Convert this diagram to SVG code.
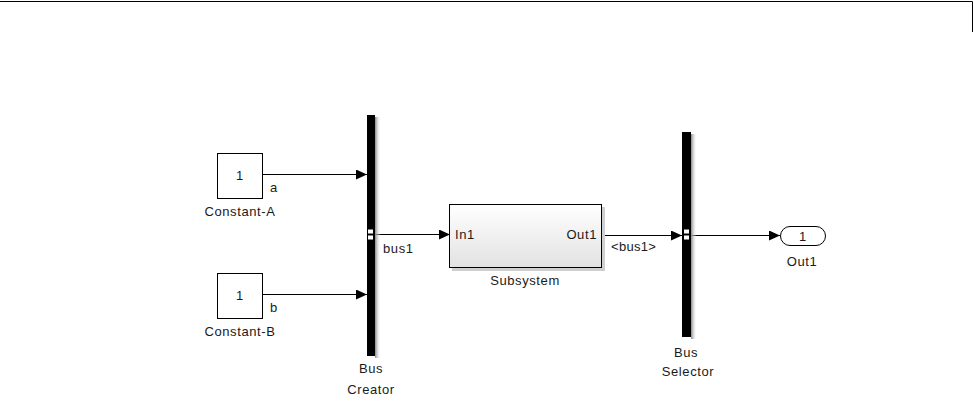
<svg xmlns="http://www.w3.org/2000/svg" width="973" height="411" viewBox="0 0 973 411">
<style>
text{font-family:"Liberation Sans",Arial,sans-serif;font-size:13px;letter-spacing:0.6px;fill:#1a1a1a}
.blk{fill:#fff;stroke:#000;stroke-width:1}
.bar{fill:#000}
.ln{stroke:#000;stroke-width:1;fill:none}
.shadow{fill:#cfcfcf}
.port{fill:#fff}
</style>
<defs>
<marker id="ah" markerWidth="11" markerHeight="10" refX="11" refY="5" orient="auto" markerUnits="userSpaceOnUse">
<path d="M0,0 L11,5 L0,10 z" fill="#000"/>
</marker>
<linearGradient id="sg" x1="0" y1="0" x2="0" y2="1">
<stop offset="0" stop-color="#ffffff"/>
<stop offset="1" stop-color="#e2e2e2"/>
</linearGradient>
<linearGradient id="barsh" x1="0" y1="0" x2="1" y2="0">
<stop offset="0" stop-color="#888"/>
<stop offset="1" stop-color="#fff" stop-opacity="0"/>
</linearGradient>
</defs>
<path d="M0,1.5 H972.5 V32" class="ln" stroke-width="1.5"/>
<g id="connectors">
<line x1="262" y1="174.5" x2="367" y2="174.5" class="ln" marker-end="url(#ah)"/>
<line x1="262" y1="294.5" x2="367" y2="294.5" class="ln" marker-end="url(#ah)"/>
<line x1="375" y1="234.5" x2="450" y2="234.5" class="ln" marker-end="url(#ah)"/>
<line x1="601" y1="235.5" x2="682" y2="235.5" class="ln" marker-end="url(#ah)"/>
<line x1="691" y1="235.5" x2="780" y2="235.5" class="ln" marker-end="url(#ah)"/>
<text x="270" y="192">a</text>
<text x="270" y="312">b</text>
<text x="383" y="253">bus1</text>
<text x="611" y="251" style="letter-spacing:0.3px">&lt;bus1&gt;</text>
</g>
<g id="constant-a">
<rect x="217.5" y="153.5" width="45" height="45" class="blk"/>
<text x="240" y="180" text-anchor="middle">1</text>
<text x="240" y="216" text-anchor="middle">Constant-A</text>
</g>
<g id="constant-b">
<rect x="217.5" y="273.5" width="45" height="45" class="blk"/>
<text x="240" y="300" text-anchor="middle">1</text>
<text x="240" y="336" text-anchor="middle">Constant-B</text>
</g>
<g id="bus-creator">
<rect x="375" y="117" width="6" height="241" fill="url(#barsh)"/>
<rect x="367" y="115" width="8" height="241" class="bar"/>
<rect x="368" y="229.5" width="5" height="4" class="port"/>
<rect x="368" y="235.5" width="5" height="4" class="port"/>
<text x="371" y="373" text-anchor="middle">Bus</text>
<text x="371" y="394" text-anchor="middle">Creator</text>
</g>
<g id="subsystem">
<rect x="452" y="207" width="153" height="64" class="shadow"/>
<rect x="449.5" y="204.5" width="152" height="63" fill="url(#sg)" stroke="#000"/>
<text x="455" y="239">In1</text>
<text x="597" y="239" text-anchor="end">Out1</text>
<text x="525" y="285" text-anchor="middle">Subsystem</text>
</g>
<g id="bus-selector">
<rect x="691" y="134" width="6" height="205" fill="url(#barsh)"/>
<rect x="682" y="132" width="9" height="205" class="bar"/>
<rect x="684" y="229.5" width="5" height="4" class="port"/>
<rect x="684" y="235.5" width="5" height="4" class="port"/>
<text x="686" y="357" text-anchor="middle">Bus</text>
<text x="688" y="376" text-anchor="middle">Selector</text>
</g>
<g id="out1">
<rect x="780.5" y="226.5" width="45" height="19" rx="9.5" class="blk"/>
<text x="803" y="241" text-anchor="middle">1</text>
<text x="802" y="266" text-anchor="middle">Out1</text>
</g>
</svg>
